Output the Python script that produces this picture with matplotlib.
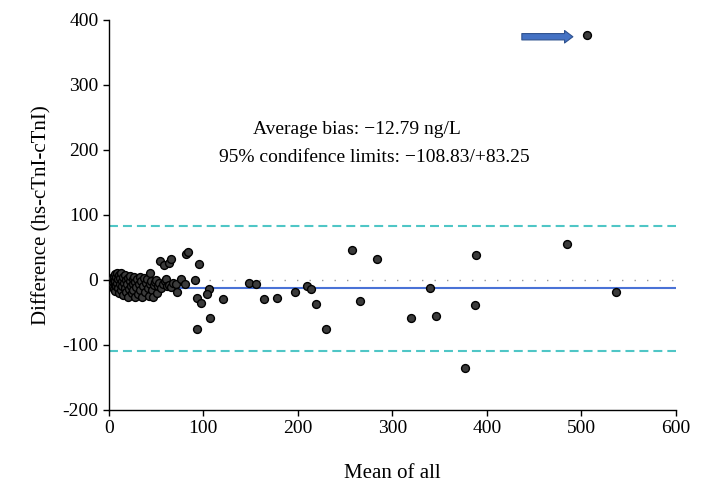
import numpy as np
import matplotlib
matplotlib.use("Agg")
import matplotlib.pyplot as plt

# Bland-Altman: mean of all vs difference (hs-cTnI - cTnI)
cluster_x = [1, 2, 2, 3, 3, 4, 4, 5, 5, 5, 6, 6, 7, 7, 8, 8, 9, 9, 10, 10,
             11, 11, 12, 12, 13, 13, 14, 14, 15, 15, 16, 17, 17, 18, 18, 19, 20, 20, 21, 22,
             22, 23, 24, 25, 25, 26, 27, 28, 28, 29, 30, 31, 32, 33, 33, 34, 35, 36, 37, 38,
             39, 40, 41, 42, 43, 44, 45, 46, 47, 48, 49, 50, 51, 52, 53, 55, 57, 59, 60, 62,
             64, 66, 68, 71, 72, 76]
cluster_y = [-2, -5, 1, -8, 3, -3, -11, 0, 6, -14, -6, 9, -2, -17, 4, -9, 11, -4, -12, 1,
             7, -20, -6, 3, -15, 10, -1, -9, 5, -23, -4, -12, 8, 0, -18, -7, 3, -26, -14, -2,
             6, -10, -20, 1, -6, -16, 4, -27, -3, -11, 2, -22, -7, 5, -15, -1, -26, -9, 3, -18,
             -4, 1, -12, -24, 10, -6, -2, -15, -27, -8, -3, 0, -20, -9, -5, -12, -7, -2, 1, -9,
             -8, -11, -5, -7, -19, 2]

other_x = [54, 58, 64, 66, 82, 84, 95, 81, 91, 93, 98, 106, 104, 121, 107, 93,
           148, 156, 164, 178, 197, 210, 214, 219, 230, 257, 266, 284, 320, 340, 346,
           377, 387, 389, 485, 537, 506]
other_y = [29, 23, 26, 32, 40, 43, 25, -6, 0, -28, -35, -14, -21, -30, -58, -76,
           -4, -7, -29, -28, -19, -9, -14, -37, -75, 46, -33, 32, -59, -12, -56,
           -135, -38, 38, 56, -19, 376]

mean_all = cluster_x + other_x
difference = cluster_y + other_y

bias = -12.79
lower_limit = -108.83
upper_limit = 83.25

plt.rcParams['font.family'] = ['Liberation Serif', 'DejaVu Serif']
plt.rcParams['axes.unicode_minus'] = False

fig = plt.figure(figsize=(7.07, 4.84), dpi=100)
ax = fig.add_axes([0.154, 0.153, 0.802, 0.806])

ax.axhline(0, color='#9a9a9a', lw=1.0, ls=(0, (1, 8)), zorder=1)
ax.axhline(bias, color='#4a72d6', lw=1.5, zorder=1)
ax.axhline(upper_limit, color='#4fc6c6', lw=1.5, ls=(0, (4.3, 2.4)), zorder=1)
ax.axhline(lower_limit, color='#4fc6c6', lw=1.5, ls=(0, (4.3, 2.4)), zorder=1)

ax.scatter(mean_all, difference, s=32, c='#3b3b3b', edgecolors='black',
           linewidths=1.0, zorder=3)

ax.annotate('', xy=(491, 374), xytext=(437, 374),
            arrowprops=dict(arrowstyle='simple,head_length=0.5,head_width=0.75,tail_width=0.38',
                            fc='#4472c4', ec='#2f528f', lw=0.8, mutation_scale=12,
                            shrinkA=0, shrinkB=0))

ax.text(152, 232, 'Average bias: \u221212.79 ng/L', fontsize=14, va='center', ha='left')
ax.text(116, 188, '95% condifence limits: \u2212108.83/+83.25', fontsize=14,
        va='center', ha='left')

ax.set_xlim(0, 600)
ax.set_ylim(-200, 400)
ax.set_xticks(range(0, 601, 100))
ax.set_yticks(range(-200, 401, 100))
ax.tick_params(labelsize=14, length=4, width=1, direction='out')
for s in ['top', 'right']:
    ax.spines[s].set_visible(False)
for s in ['left', 'bottom']:
    ax.spines[s].set_linewidth(1.0)

ax.set_xlabel('Mean of all', fontsize=15, labelpad=19)
ax.set_ylabel('Difference (hs-cTnI-cTnI)', fontsize=15, labelpad=8)

fig.savefig('out.png', dpi=100)
